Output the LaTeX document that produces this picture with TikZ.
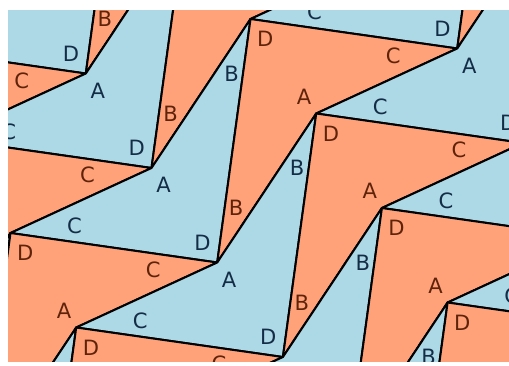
\documentclass[tikz,border=0pt]{standalone}
\usepackage{fontspec}
\setmainfont{DejaVu Sans}
\usepackage{tikz}
\usepackage{xcolor}
\definecolor{tileblue}{RGB}{173,216,230}
\definecolor{tilesalmon}{RGB}{255,162,122}
\definecolor{inkblue}{RGB}{20,45,70}
\definecolor{inkbrown}{RGB}{95,35,10}

\begin{document}
\begin{tikzpicture}[x=0.02cm,y=-0.02cm,
  bluetile/.style={fill=tileblue,draw=black,line width=1.15pt,line join=round},
  redtile/.style={fill=tilesalmon,draw=black,line width=1.15pt,line join=round},
  bluelbl/.style={text=inkblue,font=\fontsize{12}{14}\selectfont,inner sep=0pt},
  redlbl/.style={text=inkbrown,font=\fontsize{12}{14}\selectfont,inner sep=0pt}]
\useasboundingbox (0,0) rectangle (509,365);
\clip (8,10) rectangle (509,361);
% Tiles: quadrilateral A-B-D-C and its half-turn copy
\foreach \i in {-2,...,3}
\foreach \j in {-1,0,1}{
\begin{scope}[shift={({151.5+65.7*\i+305.7*\j},{168+94.5*\i-119.5*\j})}]
\filldraw[bluetile] (0,0) -- (99,-149) -- (65.7,94.5) -- (-141,65) -- cycle;
\filldraw[redtile] (164.7,-54.5) -- (65.7,94.5) -- (99,-149) -- (305.7,-119.5) -- cycle;
% Labels
\node[bluelbl] (bA\i\j) at (12,17) {A};
\node[bluelbl] (bB\i\j) at (80,-94.5) {B};
\node[bluelbl] (bC\i\j) at (-77,58) {C};
\node[bluelbl] (bD\i\j) at (51,74.5) {D};
\node[redlbl] (rA\i\j) at (152.7,-71.5) {A};
\node[redlbl] (rB\i\j) at (84.7,40) {B};
\node[redlbl] (rC\i\j) at (241.7,-112.5) {C};
\node[redlbl] (rD\i\j) at (113.7,-129) {D};
\end{scope}}
\end{tikzpicture}
\end{document}
